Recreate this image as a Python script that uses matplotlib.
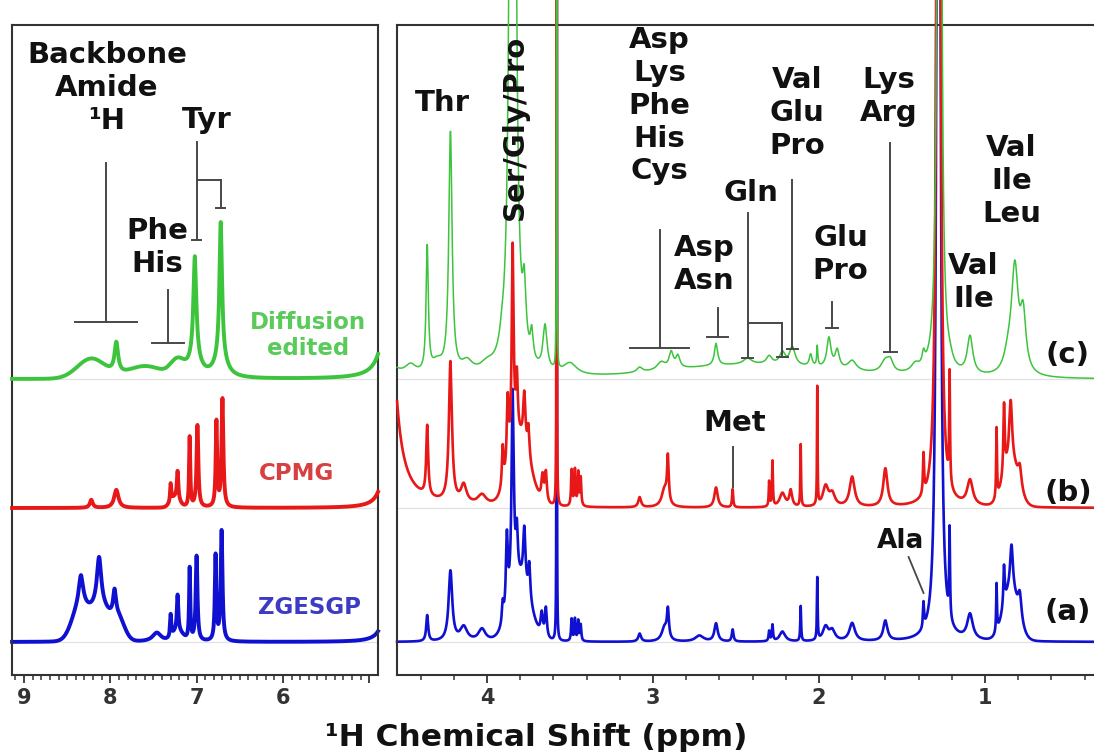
import numpy as np
import matplotlib
matplotlib.use("Agg")
import matplotlib.pyplot as plt

plt.rcParams['font.family'] = ['DejaVu Sans']
plt.rcParams['font.weight'] = 'bold'

# ---------------- data ----------------
# Lorentzian peaks: (ppm, height, half-width); Gaussian humps: (ppm, height, sigma)
# heights in px-like intensity units above each trace's baseline
SERIES = ['(a)', '(b)', '(c)']
BASELINES = [33, 167, 296]
COLORS = ['#1010d0', '#e81818', '#3cc43c']

L_BLUE_PEAKS = [(8.34, 30, 0.03), (8.13, 48, 0.03), (7.95, 25, 0.02), (7.46, 9, 0.06),
                (7.30, 22, 0.008), (7.22, 36, 0.01), (7.08, 72, 0.008), (7.00, 85, 0.012),
                (6.78, 85, 0.01), (6.71, 110, 0.012), (4.75, 600, 0.02)]
L_BLUE_HUMPS = [(8.36, 30, 0.09), (8.12, 35, 0.12), (7.90, 18, 0.07), (7.22, 10, 0.06)]

L_RED_PEAKS = [(8.22, 8, 0.02), (7.93, 18, 0.03), (7.30, 18, 0.008), (7.22, 28, 0.01),
               (7.08, 70, 0.008), (6.99, 82, 0.012), (6.77, 85, 0.01), (6.70, 108, 0.012),
               (4.75, 900, 0.02)]
L_RED_HUMPS = [(7.25, 10, 0.05)]

L_GREEN_PEAKS = [(7.93, 30, 0.025), (7.02, 100, 0.02), (7.02, 20, 0.08), (6.72, 135, 0.018),
                 (6.72, 20, 0.08), (4.72, 2000, 0.02)]
L_GREEN_HUMPS = [(8.22, 20, 0.16), (7.60, 12, 0.2), (7.22, 15, 0.08)]

R_BLUE_PEAKS = [(4.36, 26, 0.007), (4.22, 70, 0.013), (4.14, 14, 0.025), (4.03, 12, 0.025),
                (3.905, 20, 0.006), (3.88, 75, 0.007), (3.845, 200, 0.008), (3.82, 45, 0.007),
                (3.775, 55, 0.008), (3.745, 35, 0.007), (3.67, 22, 0.008), (3.645, 30, 0.007),
                (3.58, 3000, 0.0006), (3.49, 22, 0.004), (3.47, 22, 0.004), (3.45, 20, 0.004),
                (3.435, 16, 0.004), (3.08, 8, 0.01), (2.93, 14, 0.02), (2.91, 28, 0.007),
                (2.72, 6, 0.03), (2.62, 18, 0.012), (2.52, 12, 0.006), (2.30, 10, 0.004),
                (2.28, 16, 0.004), (2.22, 10, 0.02), (2.11, 35, 0.003), (2.01, 62, 0.0025),
                (1.96, 14, 0.02), (1.92, 10, 0.02), (1.80, 18, 0.02), (1.60, 20, 0.015),
                (1.37, 25, 0.004), (1.28, 3500, 0.006), (1.213, 88, 0.003), (1.09, 25, 0.02),
                (0.93, 48, 0.003), (0.885, 40, 0.005), (0.84, 45, 0.01), (0.79, 25, 0.012)]
R_BLUE_HUMPS = [(3.80, 60, 0.06), (0.845, 50, 0.045)]

R_RED_PEAKS = [(4.63, 2000, 0.021), (4.36, 70, 0.007), (4.22, 140, 0.011), (4.14, 18, 0.02),
               (4.03, 10, 0.03), (3.905, 40, 0.006), (3.875, 70, 0.007), (3.845, 205, 0.007),
               (3.82, 60, 0.007), (3.775, 50, 0.008), (3.75, 30, 0.007), (3.665, 25, 0.008),
               (3.645, 30, 0.007), (3.58, 3000, 0.0006), (3.49, 36, 0.004), (3.47, 36, 0.004),
               (3.45, 33, 0.004), (3.435, 28, 0.004), (3.08, 10, 0.01), (2.93, 18, 0.02),
               (2.91, 45, 0.006), (2.62, 20, 0.012), (2.52, 18, 0.004), (2.30, 25, 0.003),
               (2.28, 45, 0.003), (2.22, 14, 0.02), (2.17, 16, 0.01), (2.11, 62, 0.0025),
               (2.01, 118, 0.002), (1.96, 20, 0.02), (1.92, 12, 0.02), (1.80, 30, 0.018),
               (1.60, 38, 0.015), (1.37, 40, 0.004), (1.28, 3500, 0.006), (1.213, 110, 0.003),
               (1.09, 25, 0.02), (0.93, 70, 0.003), (0.885, 70, 0.005), (0.845, 60, 0.01),
               (0.79, 20, 0.012)]
R_RED_HUMPS = [(3.80, 65, 0.06), (0.845, 45, 0.045)]

R_GREEN_PEAKS = [(4.66, 800, 0.012), (4.46, 10, 0.04), (4.36, 125, 0.008), (4.30, 12, 0.04),
                 (4.22, 240, 0.012), (4.12, 12, 0.04), (4.00, 8, 0.05), (3.91, 10, 0.015),
                 (3.845, 3900, 0.008), (3.775, 60, 0.012), (3.73, 28, 0.01), (3.65, 45, 0.015),
                 (3.58, 3000, 0.0006), (3.50, 12, 0.05), (3.08, 5, 0.02), (2.95, 8, 0.03),
                 (2.89, 16, 0.015), (2.85, 12, 0.015), (2.62, 22, 0.012), (2.43, 6, 0.03),
                 (2.30, 8, 0.02), (2.22, 12, 0.02), (2.16, 18, 0.02), (2.05, 12, 0.01),
                 (2.01, 20, 0.004), (1.94, 30, 0.015), (1.89, 18, 0.015), (1.80, 10, 0.03),
                 (1.60, 12, 0.03), (1.57, 10, 0.02), (1.42, 8, 0.03), (1.37, 12, 0.01),
                 (1.275, 3500, 0.006), (1.21, 5, 0.02), (1.09, 38, 0.02), (0.86, 15, 0.03),
                 (0.82, 105, 0.025), (0.77, 55, 0.02)]
R_GREEN_HUMPS = [(2.4, 14, 0.5)]

LEFT_TICKS = [9, 8, 7, 6, 5]
LEFT_TICK_LABELS = ['9', '8', '7', '6', '']
RIGHT_TICKS = [4, 3, 2, 1]
RIGHT_TICK_LABELS = ['4', '3', '2', '1']


def spectrum(ppm, peaks, humps):
    y = np.zeros_like(ppm)
    for c, h, w in peaks:
        y += h * w ** 2 / ((ppm - c) ** 2 + w ** 2)
    for c, h, s in humps:
        y += h * np.exp(-(ppm - c) ** 2 / (2 * s ** 2))
    return y


def grid(lo, hi, step, peaks):
    g = np.arange(lo, hi, step)
    centers = [p[0] for p in peaks if lo <= p[0] <= hi]
    return np.union1d(g, centers)


fig = plt.figure(figsize=(10.94, 7.56), dpi=100)
W, H = 1094.0, 756.0
axL = fig.add_axes([12 / W, 81 / H, 366 / W, 650 / H])
axR = fig.add_axes([397 / W, 81 / H, 703 / W, 650 / H])

LXL = (9.139, 4.898)
RXL = (4.542, 0.307)

left_sets = [(L_BLUE_PEAKS, L_BLUE_HUMPS), (L_RED_PEAKS, L_RED_HUMPS), (L_GREEN_PEAKS, L_GREEN_HUMPS)]
right_sets = [(R_BLUE_PEAKS, R_BLUE_HUMPS), (R_RED_PEAKS, R_RED_HUMPS), (R_GREEN_PEAKS, R_GREEN_HUMPS)]

for ax, sets, xl, lws in [(axL, left_sets, LXL, [2.8, 2.8, 2.8]), (axR, right_sets, RXL, [1.9, 1.9, 1.1])]:
    for base in BASELINES:
        ax.axhline(base, color='#e2e2e2', lw=0.9, zorder=1)
    for i, (pk, hm) in enumerate(sets):
        x = grid(xl[1], xl[0], 0.0005, pk)
        y = BASELINES[i] + spectrum(x, pk, hm)
        ax.plot(x, y, color=COLORS[i], lw=lws[i], clip_on=False, zorder=2 + i,
                solid_joinstyle='round')
    ax.set_xlim(*xl)
    ax.set_ylim(0, 650)
    ax.set_yticks([])
    for sp in ax.spines.values():
        sp.set_color('#333333')
        sp.set_linewidth(1.5)
    ax.tick_params(axis='x', which='major', direction='out', length=6, width=1.3,
                   colors='#333333', labelsize=15, pad=3)
    ax.tick_params(axis='x', which='minor', direction='out', length=3.5, width=1.1,
                   colors='#333333')

axL.set_xticks(LEFT_TICKS, LEFT_TICK_LABELS)
axL.set_xticks(np.arange(5.0, 9.15, 0.1), minor=True)
axR.set_xticks(RIGHT_TICKS, RIGHT_TICK_LABELS)
axR.set_xticks(np.arange(0.4, 4.55, 0.2), minor=True)
for ax in (axL, axR):
    for t in ax.get_xticklabels():
        t.set_fontweight('bold')

LC = '#474747'
TXT = dict(fontsize=21, fontweight='bold', color='#111111', ha='center', va='top',
           linespacing=1.22, zorder=8)


def bracket(ax, x, ytop, ybot, cap):
    ax.plot([x, x], [ytop, ybot], color=LC, lw=1.4, zorder=7)
    ax.plot([x - cap, x + cap], [ybot, ybot], color=LC, lw=1.4, zorder=7)


# ---- left panel annotations
axL.text(8.04, 634, 'Backbone\nAmide\n\u00b9H', **TXT)
bracket(axL, 8.05, 512, 353, 0.355)
axL.text(6.88, 569, 'Tyr', **TXT)
bracket(axL, 7.0, 533, 435, 0.05)
axL.plot([7.0, 6.72], [495, 495], color=LC, lw=1.4, zorder=7)
bracket(axL, 6.72, 495, 467, 0.05)
axL.text(7.46, 458, 'Phe\nHis', **TXT)
bracket(axL, 7.33, 385, 332, 0.185)
axL.text(5.71, 364, 'Diffusion\nedited', fontsize=16.5, fontweight='bold', color='#5acb5a',
         ha='center', va='top', linespacing=1.15)
axL.text(5.84, 202, 'CPMG', fontsize=16.5, fontweight='bold', color='#d64040',
         ha='center', va='center')
axL.text(5.69, 67, 'ZGESGP', fontsize=16.5, fontweight='bold', color='#3b3bc4',
         ha='center', va='center')

# ---- right panel annotations
axR.text(4.27, 586, 'Thr', **TXT)
axR.text(3.83, 548, 'Ser/Gly/Pro', fontsize=21, fontweight='bold', color='#111111',
         ha='center', va='center', rotation=90, zorder=8)
axR.text(2.96, 649, 'Asp\nLys\nPhe\nHis\nCys', **TXT)
bracket(axR, 2.96, 445, 327, 0.18)
axR.text(2.69, 441, 'Asp\nAsn', **TXT)
bracket(axR, 2.61, 367, 338, 0.065)
axR.text(2.41, 496, 'Gln', **TXT)
bracket(axR, 2.43, 462, 317, 0.035)
axR.plot([2.43, 2.22], [352, 352], color=LC, lw=1.4, zorder=7)
bracket(axR, 2.22, 352, 318, 0.035)
axR.text(2.13, 609, 'Val\nGlu\nPro', **TXT)
bracket(axR, 2.16, 495, 326, 0.035)
axR.text(1.87, 451, 'Glu\nPro', **TXT)
bracket(axR, 1.92, 373, 347, 0.035)
axR.text(1.58, 609, 'Lys\nArg', **TXT)
bracket(axR, 1.57, 532, 323, 0.04)
axR.text(0.84, 541, 'Val\nIle\nLeu', **TXT)
axR.text(1.07, 423, 'Val\nIle', **TXT)
axR.text(2.51, 266, 'Met', **TXT)
axR.plot([2.52, 2.52], [228, 188], color=LC, lw=1.4, zorder=7)
axR.text(1.51, 147, 'Ala', fontsize=19, fontweight='bold', color='#111111',
         ha='center', va='top', zorder=8)
axR.plot([1.46, 1.37], [118, 82], color=LC, lw=1.3, zorder=7)
for lab, yy in zip(SERIES, [63, 182, 320]):
    axR.text(0.50, yy, lab, fontsize=21, fontweight='bold', color='#111111',
             ha='center', va='center', clip_on=False, zorder=8)

fig.text(536 / W, 1 - 737 / H, '\u00b9H Chemical Shift (ppm)', fontsize=22.5,
         fontweight='bold', ha='center', va='center', color='#111111')

fig.savefig('out.png', dpi=100)
